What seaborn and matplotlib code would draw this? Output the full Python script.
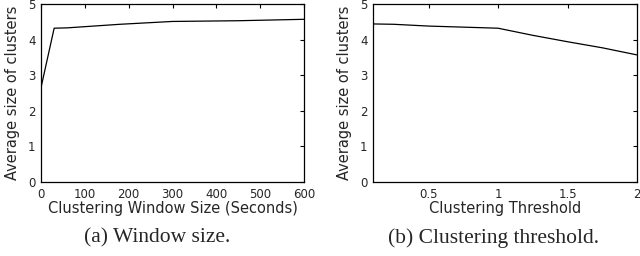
import pandas as pd
import matplotlib
matplotlib.use("Agg")
import matplotlib.pyplot as plt
import seaborn as sns

# === DATA ===
window_sizes = [0, 30, 60, 120, 180, 300, 450, 600]
window_avg_size = [2.65, 4.32, 4.33, 4.38, 4.43, 4.51, 4.53, 4.57]

thresholds = [0.1, 0.25, 0.5, 0.75, 1.0, 1.25, 1.5, 1.75, 2.0]
threshold_avg_size = [4.44, 4.43, 4.38, 4.35, 4.32, 4.12, 3.94, 3.77, 3.57]

y_ticks = [0, 1, 2, 3, 4, 5]
window_ticks = [0, 100, 200, 300, 400, 500, 600]
threshold_ticks = [0.5, 1, 1.5, 2]

Y_LABEL = "Average size of clusters"

# === STYLE ===
sns.set_style("white")
plt.rcParams["font.family"] = ["DejaVu Sans"]
plt.rcParams["axes.linewidth"] = 0.9
plt.rcParams["xtick.direction"] = "in"
plt.rcParams["ytick.direction"] = "in"


def style_axis(ax):
    ax.set_ylim(0, 5)
    ax.set_yticks(y_ticks)
    ax.tick_params(axis="both", which="both", top=True, right=True,
                   length=3, width=0.8, labelsize=8.5, pad=4, color="black")
    for s in ax.spines.values():
        s.set_color("black")
    ax.set_ylabel(Y_LABEL, fontsize=10.5, labelpad=6)


def main():
    fig = plt.figure(figsize=(6.4, 2.56), dpi=100)
    ax1 = fig.add_axes([41 / 640, 1 - 182 / 256, 263 / 640, 178 / 256])
    ax2 = fig.add_axes([373 / 640, 1 - 182 / 256, 264 / 640, 178 / 256])

    df_w = pd.DataFrame({"x": window_sizes, "y": window_avg_size})
    sns.lineplot(data=df_w, x="x", y="y", ax=ax1, color="black", linewidth=0.9)
    ax1.set_xlim(0, 600)
    ax1.set_xticks(window_ticks)
    style_axis(ax1)
    ax1.set_xlabel("Clustering Window Size (Seconds)", fontsize=10.5, labelpad=0)

    df_t = pd.DataFrame({"x": thresholds, "y": threshold_avg_size})
    sns.lineplot(data=df_t, x="x", y="y", ax=ax2, color="black", linewidth=0.9)
    ax2.set_xlim(0.1, 2)
    ax2.set_xticks(threshold_ticks)
    ax2.set_xticklabels(["0.5", "1", "1.5", "2"])
    style_axis(ax2)
    ax2.set_xlabel("Clustering Threshold", fontsize=10.5, labelpad=0)

    fig.text(157 / 640, 1 - 238 / 256, "(a) Window size.", ha="center", va="center",
             fontsize=15.5, family="Liberation Serif")
    fig.text(493 / 640, 1 - 238 / 256, "(b) Clustering threshold.", ha="center", va="center",
             fontsize=15.5, family="Liberation Serif")

    fig.savefig("out.png", dpi=100)
    plt.close(fig)


if __name__ == "__main__":
    main()
